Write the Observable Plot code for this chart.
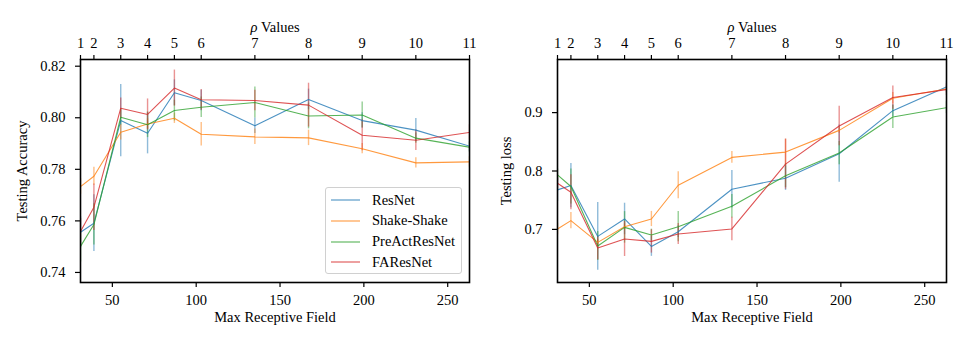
<!DOCTYPE html>
<html>
<head>
<meta charset="utf-8">
<script src="https://cdn.jsdelivr.net/npm/d3@7"></script>
<script src="https://cdn.jsdelivr.net/npm/@observablehq/plot@0.6"></script>
<style>
  body { margin: 0; background: #fff; }
  #wrap { position: relative; width: 969px; height: 345px; font-family: "Liberation Serif", "DejaVu Serif", serif; }
  .panel { position: absolute; top: 0; }
  .legend { position: absolute; left: 325px; top: 187px; width: 137px; height: 87px; box-sizing: border-box;
    border: 1px solid #d0d0d0; border-radius: 3px; background: rgba(255,255,255,0.85); font-size: 14.5px; }
  .legend .row { position: absolute; left: 0; height: 20px; display: flex; align-items: center; }
  .legend svg { margin-left: 5px; margin-right: 12px; }
</style>
</head>
<body>
<div id="wrap"></div>
<script>
// ---- data ----
const rf = [31, 39, 55, 71, 87, 103, 135, 167, 199, 231, 263];
const rho = [1, 2, 3, 4, 5, 6, 7, 8, 9, 10, 11];
const seriesNames = ["ResNet", "Shake-Shake", "PreActResNet", "FAResNet"];
const seriesColors = ["#1f77b4", "#ff7f0e", "#2ca02c", "#d62728"];

const accResNet    = [0.7556, 0.7591, 0.7989, 0.7940, 0.8097, 0.8067, 0.7969, 0.8071, 0.7989, 0.7952, 0.7890];
const accResNetErr = [0.006, 0.011, 0.014, 0.008, 0.005, 0.004, 0.003, 0.004, 0.003, 0.0045, 0.002];
const accShake     = [0.7733, 0.7773, 0.7944, 0.7976, 0.7998, 0.7936, 0.7926, 0.7922, 0.7880, 0.7825, 0.7829];
const accShakeErr  = [0.003, 0.0035, 0.003, 0.002, 0.002, 0.0046, 0.003, 0.003, 0.002, 0.002, 0.002];
const accPreAct    = [0.7501, 0.7586, 0.8002, 0.7973, 0.8028, 0.8041, 0.8059, 0.8007, 0.8011, 0.7921, 0.7886];
const accPreActErr = [0.006, 0.008, 0.003, 0.005, 0.004, 0.004, 0.006, 0.005, 0.005, 0.002, 0.002];
const accFA        = [0.7559, 0.7653, 0.8037, 0.8013, 0.8115, 0.8070, 0.8067, 0.8049, 0.7932, 0.7913, 0.7943];
const accFAErr     = [0.005, 0.009, 0.004, 0.006, 0.007, 0.004, 0.004, 0.0085, 0.006, 0.004, 0.003];

const lossResNet    = [0.7677, 0.7750, 0.6880, 0.7178, 0.6708, 0.6960, 0.7688, 0.7877, 0.8296, 0.9034, 0.9441];
const lossResNetErr = [0.020, 0.038, 0.058, 0.027, 0.017, 0.010, 0.032, 0.021, 0.049, 0.010, 0.010];
const lossShake     = [0.7007, 0.7150, 0.6777, 0.7046, 0.7178, 0.7756, 0.8233, 0.8324, 0.8696, 0.9246, 0.9407];
const lossShakeErr  = [0.010, 0.014, 0.005, 0.005, 0.013, 0.023, 0.010, 0.022, 0.005, 0.010, 0.005];
const lossPreAct    = [0.7935, 0.7734, 0.6715, 0.7034, 0.6904, 0.7046, 0.7396, 0.7918, 0.8307, 0.8926, 0.9086];
const lossPreActErr = [0.010, 0.030, 0.025, 0.027, 0.010, 0.026, 0.020, 0.020, 0.020, 0.020, 0.010];
const lossFA        = [0.7790, 0.7636, 0.6680, 0.6835, 0.6794, 0.6920, 0.7007, 0.8118, 0.8771, 0.9258, 0.9395];
const lossFAErr     = [0.010, 0.030, 0.020, 0.030, 0.020, 0.018, 0.020, 0.043, 0.034, 0.020, 0.010];

const accTicks = [0.74, 0.76, 0.78, 0.80, 0.82];
const lossTicks = [0.7, 0.8, 0.9];
const xTicks = [50, 100, 150, 200, 250];

function table(vals, errs) {
  const out = [];
  vals.forEach((v, s) => v.forEach((y, i) => out.push({series: seriesNames[s], rf: rf[i], y, err: errs[s][i]})));
  return out;
}
const accData = table([accResNet, accShake, accPreAct, accFA], [accResNetErr, accShakeErr, accPreActErr, accFAErr]);
const lossData = table([lossResNet, lossShake, lossPreAct, lossFA], [lossResNetErr, lossShakeErr, lossPreActErr, lossFAErr]);

function panel({data, width, marginLeft, marginRight, yDomain, yTicks, yFormat, yLabel}) {
  return Plot.plot({
    width, height: 345,
    marginTop: 59, marginBottom: 63, marginLeft, marginRight,
    style: {fontFamily: "Liberation Serif, DejaVu Serif, serif", fontSize: "14.5px", color: "black", background: "transparent"},
    x: {domain: [31, 263]},
    y: {domain: yDomain},
    color: {domain: seriesNames, range: seriesColors},
    marks: [
      Plot.ruleX(data, {x: "rf", y1: d => d.y - d.err, y2: d => d.y + d.err, stroke: "series", strokeOpacity: 0.5, strokeWidth: 1.4, clip: true}),
      Plot.line(data, {x: "rf", y: "y", z: "series", stroke: "series", strokeWidth: 1.1, strokeOpacity: 0.8, clip: true}),
      Plot.frame({stroke: "black", strokeWidth: 1.6}),
      Plot.axisX({anchor: "bottom", ticks: xTicks, tickSize: 5, tickPadding: 7, strokeWidth: 1.2, label: null}),
      Plot.axisX({anchor: "top", ticks: rf, tickFormat: d => String(rho[rf.indexOf(d)]), tickSize: 5, tickPadding: 7, strokeWidth: 1.2, label: null}),
      Plot.axisY({anchor: "left", ticks: yTicks, tickFormat: yFormat, tickSize: 5, tickPadding: 10, strokeWidth: 1.2, label: null}),
      Plot.text(["Max Receptive Field"], {frameAnchor: "bottom", dy: 39, text: d => d, fontSize: 14.5}),
      Plot.text(["ρ Values"], {frameAnchor: "top", dy: -38, text: d => d, fontSize: 14.5}),
      Plot.text([yLabel], {frameAnchor: "left", textAnchor: "middle", dx: -(marginLeft - 22), rotate: -90, text: d => d, fontSize: 14.5})
    ]
  });
}

const wrap = document.getElementById("wrap");
const left = panel({data: accData, width: 484, marginLeft: 80, marginRight: 15,
  yDomain: [0.7361, 0.8226], yTicks: accTicks, yFormat: d3.format(".2f"), yLabel: "Testing Accuracy"});
const right = panel({data: lossData, width: 485, marginLeft: 73, marginRight: 23,
  yDomain: [0.609, 0.991], yTicks: lossTicks, yFormat: d3.format(".1f"), yLabel: "Testing loss"});

for (const [node, x] of [[left, 0], [right, 484]]) {
  const div = document.createElement("div");
  div.className = "panel";
  div.style.left = x + "px";
  div.appendChild(node);
  wrap.appendChild(div);
  d3.select(node).selectAll("text").filter(function() { return this.textContent === "ρ Values"; })
    .each(function() {
      const t = d3.select(this);
      t.text(null);
      t.append("tspan").attr("font-style", "italic").text("ρ");
      t.append("tspan").text(" Values");
    });
}

// legend (inside left panel)
const legend = document.createElement("div");
legend.className = "legend";
seriesNames.forEach((name, i) => {
  const row = document.createElement("div");
  row.className = "row";
  row.style.top = (2 + i * 20.8) + "px";
  row.innerHTML = `<svg width="29" height="4"><line x1="0" x2="29" y1="2" y2="2" stroke="${seriesColors[i]}" stroke-width="1.1" stroke-opacity="0.8"/></svg><span>${name}</span>`;
  legend.appendChild(row);
});
wrap.appendChild(legend);
</script>
</body>
</html>
